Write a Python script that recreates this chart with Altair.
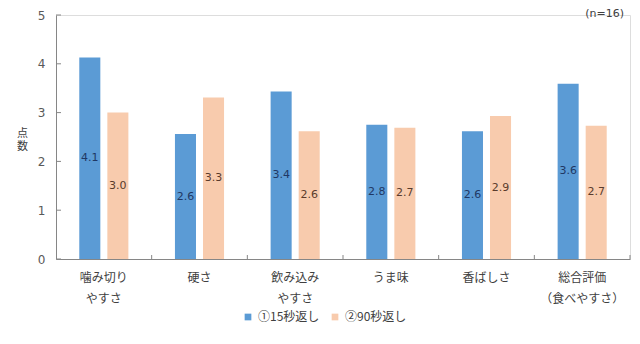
import altair as alt
import pandas as pd

categories = ["噛み切り\nやすさ", "硬さ", "飲み込み\nやすさ", "うま味", "香ばしさ", "総合評価\n（食べやすさ）"]
series = ["①15秒返し", "②90秒返し"]
values_15 = [4.13, 2.56, 3.43, 2.75, 2.62, 3.59]
values_90 = [3.00, 3.31, 2.62, 2.69, 2.93, 2.73]
y_ticks = [0, 1, 2, 3, 4, 5]

bar_colors = ["#5B9BD5", "#F8CBAD"]
label_colors = ["#1F3864", "#5A3B2C"]

rows = []
for c, v1, v2 in zip(categories, values_15, values_90):
    rows.append({"cat": c, "series": series[0], "value": v1, "tcol": label_colors[0]})
    rows.append({"cat": c, "series": series[1], "value": v2, "tcol": label_colors[1]})
df = pd.DataFrame(rows)
df["half"] = df["value"] / 2
df["label"] = df["value"].map(lambda v: f"{v:.1f}")

ticks_df = pd.DataFrame({"t": y_ticks})
cat_df = pd.DataFrame({"cat": categories})

JP = "Noto Sans CJK JP"
NUM = "DejaVu Sans"
AXIS_COL = "#868686"

x_enc = alt.X(
    "cat:N",
    sort=categories,
    scale=alt.Scale(paddingInner=0, paddingOuter=0),
    axis=alt.Axis(
        title=None,
        labelAngle=0,
        labelExpr="split(datum.label, '\\n')",
        labelFont=JP,
        labelFontSize=12,
        labelColor="#404040",
        labelLineHeight=21,
        labelPadding=13,
        ticks=False,
        domainColor=AXIS_COL,
        domainWidth=1,
    ),
)

y_scale = alt.Scale(domain=[0, 5], nice=False)

bars = alt.Chart(df).mark_bar().encode(
    x=x_enc,
    xOffset=alt.XOffset("series:N", sort=series,
                        scale=alt.Scale(paddingInner=0.25, paddingOuter=0.83)),
    y=alt.Y(
        "value:Q",
        scale=y_scale,
        axis=alt.Axis(
            title=["点", "数"],
            titleAngle=0,
            titleFont=JP,
            titleFontSize=11,
            titleFontWeight="normal",
            titleColor="#404040",
            titleX=-34,
            titleY=118,
            titleLineHeight=13,
            titleAlign="center",
            titleBaseline="middle",
            values=y_ticks,
            format="d",
            labelFont=NUM,
            labelFontSize=12,
            labelColor="#595959",
            labelPadding=11,
            ticks=False,
            grid=False,
            domainColor=AXIS_COL,
            domainWidth=1,
        ),
    ),
    color=alt.Color(
        "series:N",
        sort=series,
        scale=alt.Scale(domain=series, range=bar_colors),
        legend=alt.Legend(
            title=None,
            orient="none",
            legendX=186,
            legendY=296,
            direction="horizontal",
            symbolType="square",
            symbolSize=45,
            symbolStrokeWidth=0,
            labelFont=JP,
            labelFontSize=12,
            labelColor="#404040",
            labelOffset=4,
            columnPadding=9,
            padding=0,
        ),
    ),
)

texts = alt.Chart(df).mark_text(font=NUM, fontSize=11, baseline="middle").encode(
    x=alt.X("cat:N", sort=categories),
    xOffset=alt.XOffset("series:N", sort=series),
    y=alt.Y("half:Q", scale=y_scale),
    text="label:N",
    color=alt.Color("tcol:N", scale=None),
)

yticks = alt.Chart(ticks_df).mark_rule(color=AXIS_COL, strokeWidth=1).encode(
    y=alt.Y("t:Q", scale=y_scale),
    x=alt.value(0),
    x2=alt.value(5),
)

xticks = alt.Chart(cat_df).mark_rule(color=AXIS_COL, strokeWidth=1).encode(
    x=alt.X("cat:N", sort=categories, bandPosition=1),
    y=alt.value(244),
    y2=alt.value(240),
)

chart = alt.layer(bars, texts, yticks, xticks).properties(
    width=574,
    height=244,
    padding={"left": 56, "top": 15, "right": 10, "bottom": 85},
    autosize=alt.AutoSizeParams(type="none"),
    title=alt.TitleParams(
        text="(n=16)",
        anchor="end",
        frame="group",
        font=NUM,
        fontSize=11,
        fontWeight="normal",
        color="#404040",
        offset=-10,
        dx=-6,
    ),
).configure_view(stroke=None).configure(background="white")

chart.save("out.html", embed_options={"renderer": "svg", "actions": False})
